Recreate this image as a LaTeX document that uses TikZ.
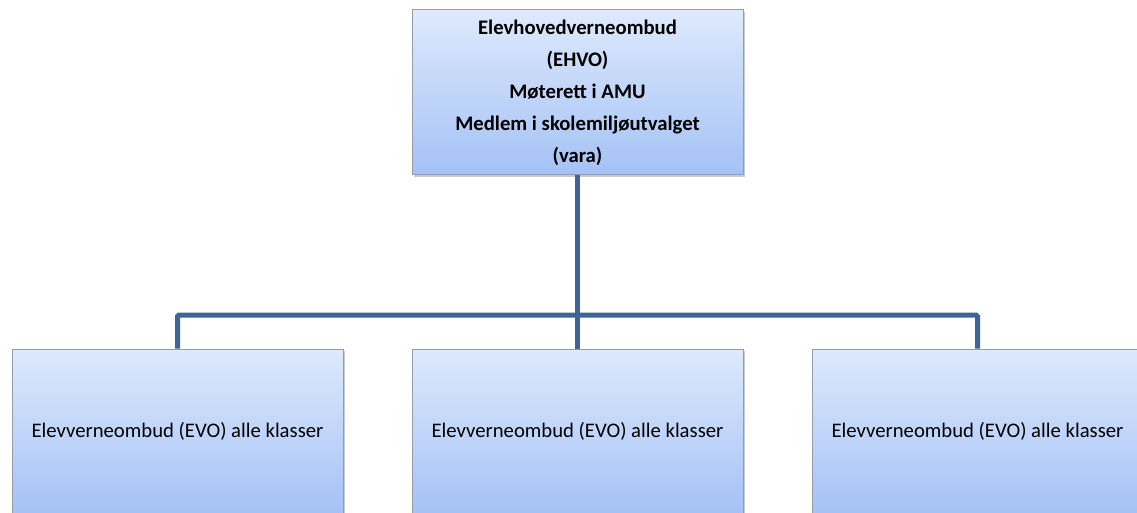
\documentclass[tikz,border=0pt]{standalone}
\usepackage{fontspec}
\setmainfont{Carlito}
\usetikzlibrary{shadows,backgrounds}
\definecolor{boxtop}{RGB}{222,233,252}
\definecolor{boxbot}{RGB}{164,194,246}
\definecolor{boxedge}{RGB}{150,155,165}
\definecolor{conn}{RGB}{62,101,150}
\tikzset{
  orgbox/.style={draw=boxedge, line width=1pt, top color=boxtop, bottom color=boxbot,
    minimum width=331pt, minimum height=165pt, inner sep=0pt, align=center,
    drop shadow={shadow xshift=2pt, shadow yshift=-2pt, opacity=0.35, fill=black!60},
    font=\fontsize{20.7}{32}\selectfont},
  link/.style={draw=conn, line width=5pt, rounded corners=1.5pt}
}
\begin{document}
\begin{tikzpicture}[x=1pt,y=1pt]
\useasboundingbox (0,0) rectangle (1137,-513);
\clip (0,0) rectangle (1137,-513);
\node[orgbox, font=\bfseries\fontsize{20.7}{32}\selectfont] (top) at (577.5,-92.5)
  {Elevhovedverneombud\\(EHVO)\\Møterett i AMU\\Medlem i skolemiljøutvalget\\(vara)};
\node[orgbox] (l) at (177.5,-431.5) {Elevverneombud (EVO) alle klasser};
\node[orgbox] (m) at (577.5,-431.5) {Elevverneombud (EVO) alle klasser};
\node[orgbox] (r) at (977.5,-431.5) {Elevverneombud (EVO) alle klasser};
\coordinate (j) at (577.5,-315);
\begin{scope}[on background layer]
\draw[link] (l.north) |- (j) -| (r.north);
\draw[link] (top.south) -- (m.north);
\end{scope}
\end{tikzpicture}
\end{document}
